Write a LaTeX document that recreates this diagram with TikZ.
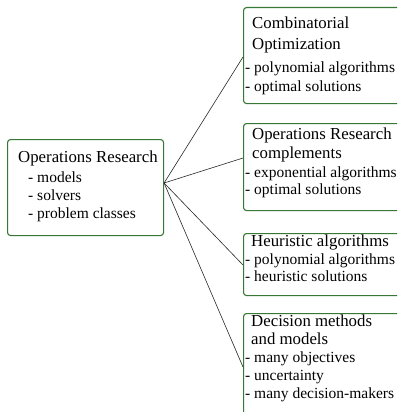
\documentclass[tikz,border=0pt]{standalone}
\usepackage{fontspec}
\setmainfont{Liberation Serif}
\definecolor{boxgreen}{RGB}{55,120,55}
\definecolor{linegray}{RGB}{40,40,40}
\begin{document}
\begin{tikzpicture}[x=1pt,y=-1pt,
  box/.style={draw=boxgreen, line width=1.1pt, rounded corners=3pt, anchor=north west, inner sep=0pt},
  ttl/.style={anchor=base west, inner sep=0pt, font=\fontsize{16.8}{19}\selectfont},
  itm/.style={anchor=base west, inner sep=0pt, font=\fontsize{15.5}{18}\selectfont},
  link/.style={draw=linegray, line width=0.6pt}]
\useasboundingbox (0,0) rectangle (397,412);
\clip (0,0) rectangle (397,412);
\fill[white] (0,0) rectangle (397,412);
% left box
\node[box, minimum width=156pt, minimum height=96pt] (or) at (7,139) {};
\node[ttl] (ort) at (18,162) {Operations Research};
\node[itm] (or1) at (28,182) {- models};
\node[itm] (or2) at (28,200) {- solvers};
\node[itm] (or3) at (28,218) {- problem classes};
% right boxes
\node[box, minimum width=180pt, minimum height=96pt] (b1) at (243,7) {};
\node[ttl] (b1t1) at (252,29) {Combinatorial};
\node[ttl] (b1t2) at (252,50) {Optimization};
\node[itm] (b1i1) at (245,72) {- polynomial algorithms};
\node[itm] (b1i2) at (245,91) {- optimal solutions};

\node[box, minimum width=180pt, minimum height=87pt] (b2) at (243,123) {};
\node[ttl] (b2t1) at (252,139) {Operations Research};
\node[ttl] (b2t2) at (252,158) {complements};
\node[itm] (b2i1) at (245,177) {- exponential algorithms};
\node[itm] (b2i2) at (245,194) {- optimal solutions};

\node[box, minimum width=180pt, minimum height=62pt] (b3) at (243,233) {};
\node[ttl] (b3t1) at (251,246) {Heuristic algorithms};
\node[itm] (b3i1) at (245,264) {- polynomial algorithms};
\node[itm] (b3i2) at (245,281) {- heuristic solutions};

\node[box, minimum width=180pt, minimum height=120pt] (b4) at (243,313) {};
\node[ttl] (b4t1) at (251,326) {Decision methods};
\node[ttl] (b4t2) at (251,344) {and models};
\node[itm] (b4i1) at (245,362) {- many objectives};
\node[itm] (b4i2) at (245,380) {- uncertainty};
\node[itm] (b4i3) at (245,398) {- many decision-makers};
% connectors
\coordinate (hub) at (or.east |- 0,183);
\coordinate (e1) at (b1.west |- 0,57);
\coordinate (e2) at (b2.west |- 0,158);
\coordinate (e3) at (b3.west |- 0,265);
\coordinate (e4) at (b4.west |- 0,367);
\draw[link] (hub) -- (e1);
\draw[link] (hub) -- (e2);
\draw[link] (hub) -- (e3);
\draw[link] (hub) -- (e4);
\end{tikzpicture}
\end{document}
